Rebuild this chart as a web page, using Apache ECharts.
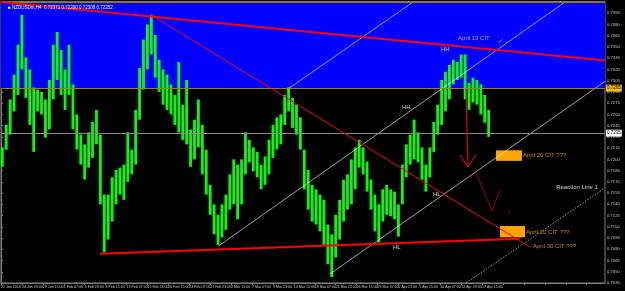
<!DOCTYPE html>
<html><head><meta charset="utf-8">
<script src="https://cdn.jsdelivr.net/npm/echarts@6/dist/echarts.min.js"></script>
<style>html,body{margin:0;padding:0;background:#000;}#c{width:625px;height:291px;}</style>
</head><body><div id="c"></div>
<script>
// H4 time labels, one every 16 bars
const timeLabels = ["22 Jan 2018","24 Jan 23:00","29 Jan 15:00","1 Feb 07:00","5 Feb 23:00","8 Feb 15:00","13 Feb 07:00","15 Feb 23:00","20 Feb 15:00","23 Feb 07:00","27 Feb 23:00","2 Mar 15:00","7 Mar 07:00","9 Mar 23:00","14 Mar 15:00","19 Mar 07:00","21 Mar 23:00","26 Mar 15:00","29 Mar 07:00","2 Apr 23:00","5 Apr 15:00","10 Apr 07:00","12 Apr 23:00","17 Apr 15:00"];
const barsPerLabel = 16;
const barsPerPoint = 3;      // each point below groups three H4 bars
const totalBars = 462;       // chart width incl. empty future space
// price highs / lows per point
const highs = [0.7216,0.7246,0.7280,0.7313,0.7353,0.7393,0.7336,0.7320,0.7296,0.7293,
 0.7290,0.7280,0.7306,0.7353,0.7370,0.7346,0.7320,0.7353,0.7300,0.7260,
 0.7233,0.7220,0.7236,0.7250,0.7266,0.7233,0.7153,0.7153,0.7176,0.7186,
 0.7189,0.7193,0.7236,0.7213,0.7266,0.7322,0.7360,0.7380,0.7393,0.7366,
 0.7333,0.7320,0.7313,0.7300,0.7286,0.7330,0.7273,0.7306,0.7240,0.7253,
 0.7280,0.7246,0.7213,0.7166,0.7140,0.7126,0.7140,0.7153,0.7180,0.7200,
 0.7193,0.7200,0.7236,0.7226,0.7216,0.7210,0.7193,0.7204,0.7226,0.7246,
 0.7256,0.7260,0.7286,0.7296,0.7282,0.7273,0.7256,0.7213,0.7186,0.7166,
 0.7160,0.7153,0.7146,0.7113,0.7100,0.7126,0.7146,0.7173,0.7180,0.7200,
 0.7216,0.7226,0.7216,0.7197,0.7173,0.7153,0.7140,0.7160,0.7166,0.7160,
 0.7157,0.7140,0.7193,0.7220,0.7233,0.7253,0.7236,0.7216,0.7193,0.7216,
 0.7250,0.7273,0.7306,0.7317,0.7326,0.7333,0.7330,0.7340,0.7340,0.7302,
 0.7309,0.7306,0.7300,0.7286,0.7266];
const lows = [0.7190,0.7213,0.7233,0.7264,0.7286,0.7320,0.7282,0.7246,0.7210,0.7264,
 0.7260,0.7229,0.7240,0.7280,0.7306,0.7286,0.7266,0.7286,0.7240,0.7213,
 0.7193,0.7173,0.7189,0.7202,0.7220,0.7140,0.7076,0.7093,0.7117,0.7140,
 0.7153,0.7146,0.7170,0.7180,0.7193,0.7253,0.7293,0.7320,0.7340,0.7309,
 0.7290,0.7273,0.7266,0.7260,0.7246,0.7236,0.7226,0.7220,0.7190,0.7200,
 0.7216,0.7180,0.7153,0.7126,0.7100,0.7086,0.7096,0.7106,0.7133,0.7140,
 0.7120,0.7140,0.7180,0.7196,0.7184,0.7176,0.7160,0.7166,0.7180,0.7202,
 0.7213,0.7220,0.7246,0.7264,0.7242,0.7233,0.7213,0.7160,0.7133,0.7117,
 0.7113,0.7104,0.7086,0.7060,0.7043,0.7069,0.7093,0.7117,0.7133,0.7140,
 0.7160,0.7189,0.7180,0.7157,0.7133,0.7104,0.7089,0.7117,0.7126,0.7124,
 0.7120,0.7097,0.7140,0.7176,0.7193,0.7200,0.7196,0.7173,0.7157,0.7176,
 0.7210,0.7233,0.7246,0.7264,0.7280,0.7300,0.7306,0.7309,0.7280,0.7266,
 0.7276,0.7273,0.7260,0.7249,0.7230];
const priceMin = 0.7035, priceMax = 0.7410, priceStep = 0.0015;
const levelPrice = 0.7295;   // horizontal level (bottom of blue zone)
const bidPrice = 0.7235;     // current price line
const titleText = "NZDUSDm,H4  0.72371 0.72390 0.72308 0.72352";
// drawn objects in (bar index, price)
const redThick = [[[0,0.7410],[462,0.7332]], [[75.7,0.7074],[397,0.7094]]];
const redThin = [[[114.7,0.7393],[404.6,0.7083]],
  [[355.7,0.7293],[357.2,0.7190]], [[351.1,0.7206],[357.2,0.7190]], [[363.3,0.7206],[357.2,0.7190]]];
const darkRed = [[[362.5,0.7186],[375.5,0.7131]], [[381.7,0.7159],[375.5,0.7131]]];
const channel = [[[218.8,0.7293],[315.1,0.7410]], [[166,0.7084],[431.4,0.7410]], [[251.6,0.7047],[462,0.7304]]];
const reaction = [[355.7,0.7035],[462,0.7162]];
const boxes = [[[378.6,0.7212],[398.5,0.7198]], [[381.7,0.7111],[400.8,0.7096]]];
const whiteTexts = [[336.5,0.7347,"HH"],[306.7,0.7270,"HH"],[330.4,0.7153,"HL"],[299.8,0.7082,"HL"],[380.1,0.7358,"✓"]];
const goldTexts = [[349.6,0.7362,"April 13 CIT"]];
const orangeTexts = [[399.3,0.7206,"April 20 CIT ???"],[401.6,0.7103,"April 20 CIT ???"],[406.9,0.7084,"April 30 CIT ???"]];
const redTexts = [[387.0,0.7128,"?"]];
const rightTexts = [[456.6,0.7163,"Reaction Line 1"]];

const FONT = 'Liberation Sans, Arial, sans-serif';
const chart = echarts.init(document.getElementById('c'), null, {renderer:'canvas'});
const series = [];
const anchor = [[0, priceMin],[totalBars, priceMax]];
// blue zone
series.push({type:'line', data:anchor, z:1, silent:true, showSymbol:false, symbol:'none', lineStyle:{opacity:0},
  markArea:{silent:true, itemStyle:{color:'#0000ff'}, data:[[{coord:[0,levelPrice]},{coord:[totalBars,priceMax]}]]}});
// orange boxes
series.push({type:'line', data:anchor, z:2, silent:true, showSymbol:false, symbol:'none', lineStyle:{opacity:0},
  markArea:{silent:true, itemStyle:{color:'#ffa500'}, data:boxes.map(b=>[{coord:b[0]},{coord:b[1]}])}});
// price bars
series.push({type:'custom', z:3, silent:true,
  data: highs.map((h,i)=>[i*barsPerPoint+1, lows[i], h]),
  renderItem(params, api){
    const x = api.value(0);
    const top = api.coord([x, api.value(2)]);
    const bot = api.coord([x, api.value(1)]);
    return {type:'rect', shape:{x:top[0]-1.4, y:top[1], width:2.8, height:Math.max(1,bot[1]-top[1])}, style:{fill:'#00ff00'}};
  }});
// level lines
series.push({type:'line', data:anchor, z:4, silent:true, showSymbol:false, symbol:'none', lineStyle:{opacity:0},
  markLine:{silent:true, symbol:['none','none'], animation:false, data:[
    [{coord:[0,levelPrice]},{coord:[totalBars,levelPrice], lineStyle:{color:'#9c8410',width:1,type:'solid'},
     label:{show:true, position:'end', distance:1, formatter:levelPrice.toFixed(4), backgroundColor:'#f0c000', color:'#000', fontSize:4.5, padding:[1,1], fontFamily:FONT}}],
    [{coord:[0,bidPrice]},{coord:[totalBars,bidPrice], lineStyle:{color:'#8a8a8a',width:1,type:'solid'},
     label:{show:true, position:'end', distance:1, formatter:bidPrice.toFixed(4), backgroundColor:'#ffffff', color:'#000', fontSize:4.5, padding:[1,1], fontFamily:FONT}}],
    [{coord:[0,priceMax]},{coord:[totalBars,priceMax], lineStyle:{color:'#8a7a20',width:2,type:'solid'}, label:{show:false}}]
  ]}});
function addLines(list, style, z){
  list.forEach(seg=>series.push({type:'line', data:seg, z:z, silent:true, showSymbol:false, symbol:'none', animation:false, lineStyle:style}));
}
addLines(channel, {color:'rgba(255,255,255,0.62)', width:1}, 4);
addLines([reaction], {color:'#9a9a9a', width:1, type:[1.5,1.5]}, 4);
addLines(redThick, {color:'#ff0000', width:2}, 5);
addLines(redThin, {color:'#ff0000', width:1}, 5);
addLines(darkRed, {color:'#a00000', width:1}, 5);
function addTexts(list, color, pos){
  series.push({type:'scatter', z:6, silent:true, symbolSize:0, data:list, animation:false,
    label:{show:true, position:pos, distance:0, color:color, fontSize:6, fontFamily:FONT, formatter:p=>p.data[2]}});
}
addTexts(whiteTexts, '#ffffff', 'right');
addTexts(goldTexts, '#ffd040', 'right');
addTexts(orangeTexts, '#ffa500', 'right');
addTexts(redTexts, '#c00000', 'right');
addTexts(rightTexts, '#ffffff', 'left');

chart.setOption({
  backgroundColor:'#000',
  animation:false,
  title:{text:'■ '+titleText, left:3, top:0, textStyle:{color:'#ffffff', fontSize:4.5, fontWeight:'normal', fontFamily:FONT}},
  grid:{left:1, right:20, top:2, bottom:8, outerBoundsMode:'none', show:true, borderColor:'#808080', borderWidth:1, backgroundColor:'#000'},
  xAxis:{type:'value', min:0, max:totalBars, interval:barsPerLabel,
    axisLine:{show:true, lineStyle:{color:'#808080'}}, splitLine:{show:false},
    axisTick:{show:true, length:2, lineStyle:{color:'#808080'}},
    axisLabel:{align:'left', fontSize:3.6, color:'#c8c8c8', margin:2, fontFamily:FONT, showMaxLabel:false,
      formatter:v=>{const k=v/barsPerLabel; return (Number.isInteger(k)&&k<timeLabels.length)?timeLabels[k]:'';}}},
  yAxis:{type:'value', position:'right', min:priceMin, max:priceMax, interval:priceStep,
    axisLine:{show:true, lineStyle:{color:'#808080'}}, splitLine:{show:false},
    axisTick:{show:true, length:2, lineStyle:{color:'#808080'}},
    axisLabel:{fontSize:4.2, color:'#c8c8c8', margin:2, fontFamily:FONT, showMaxLabel:false,
      formatter:v=>v.toFixed(4)}},
  series:series
});
</script></body></html>
